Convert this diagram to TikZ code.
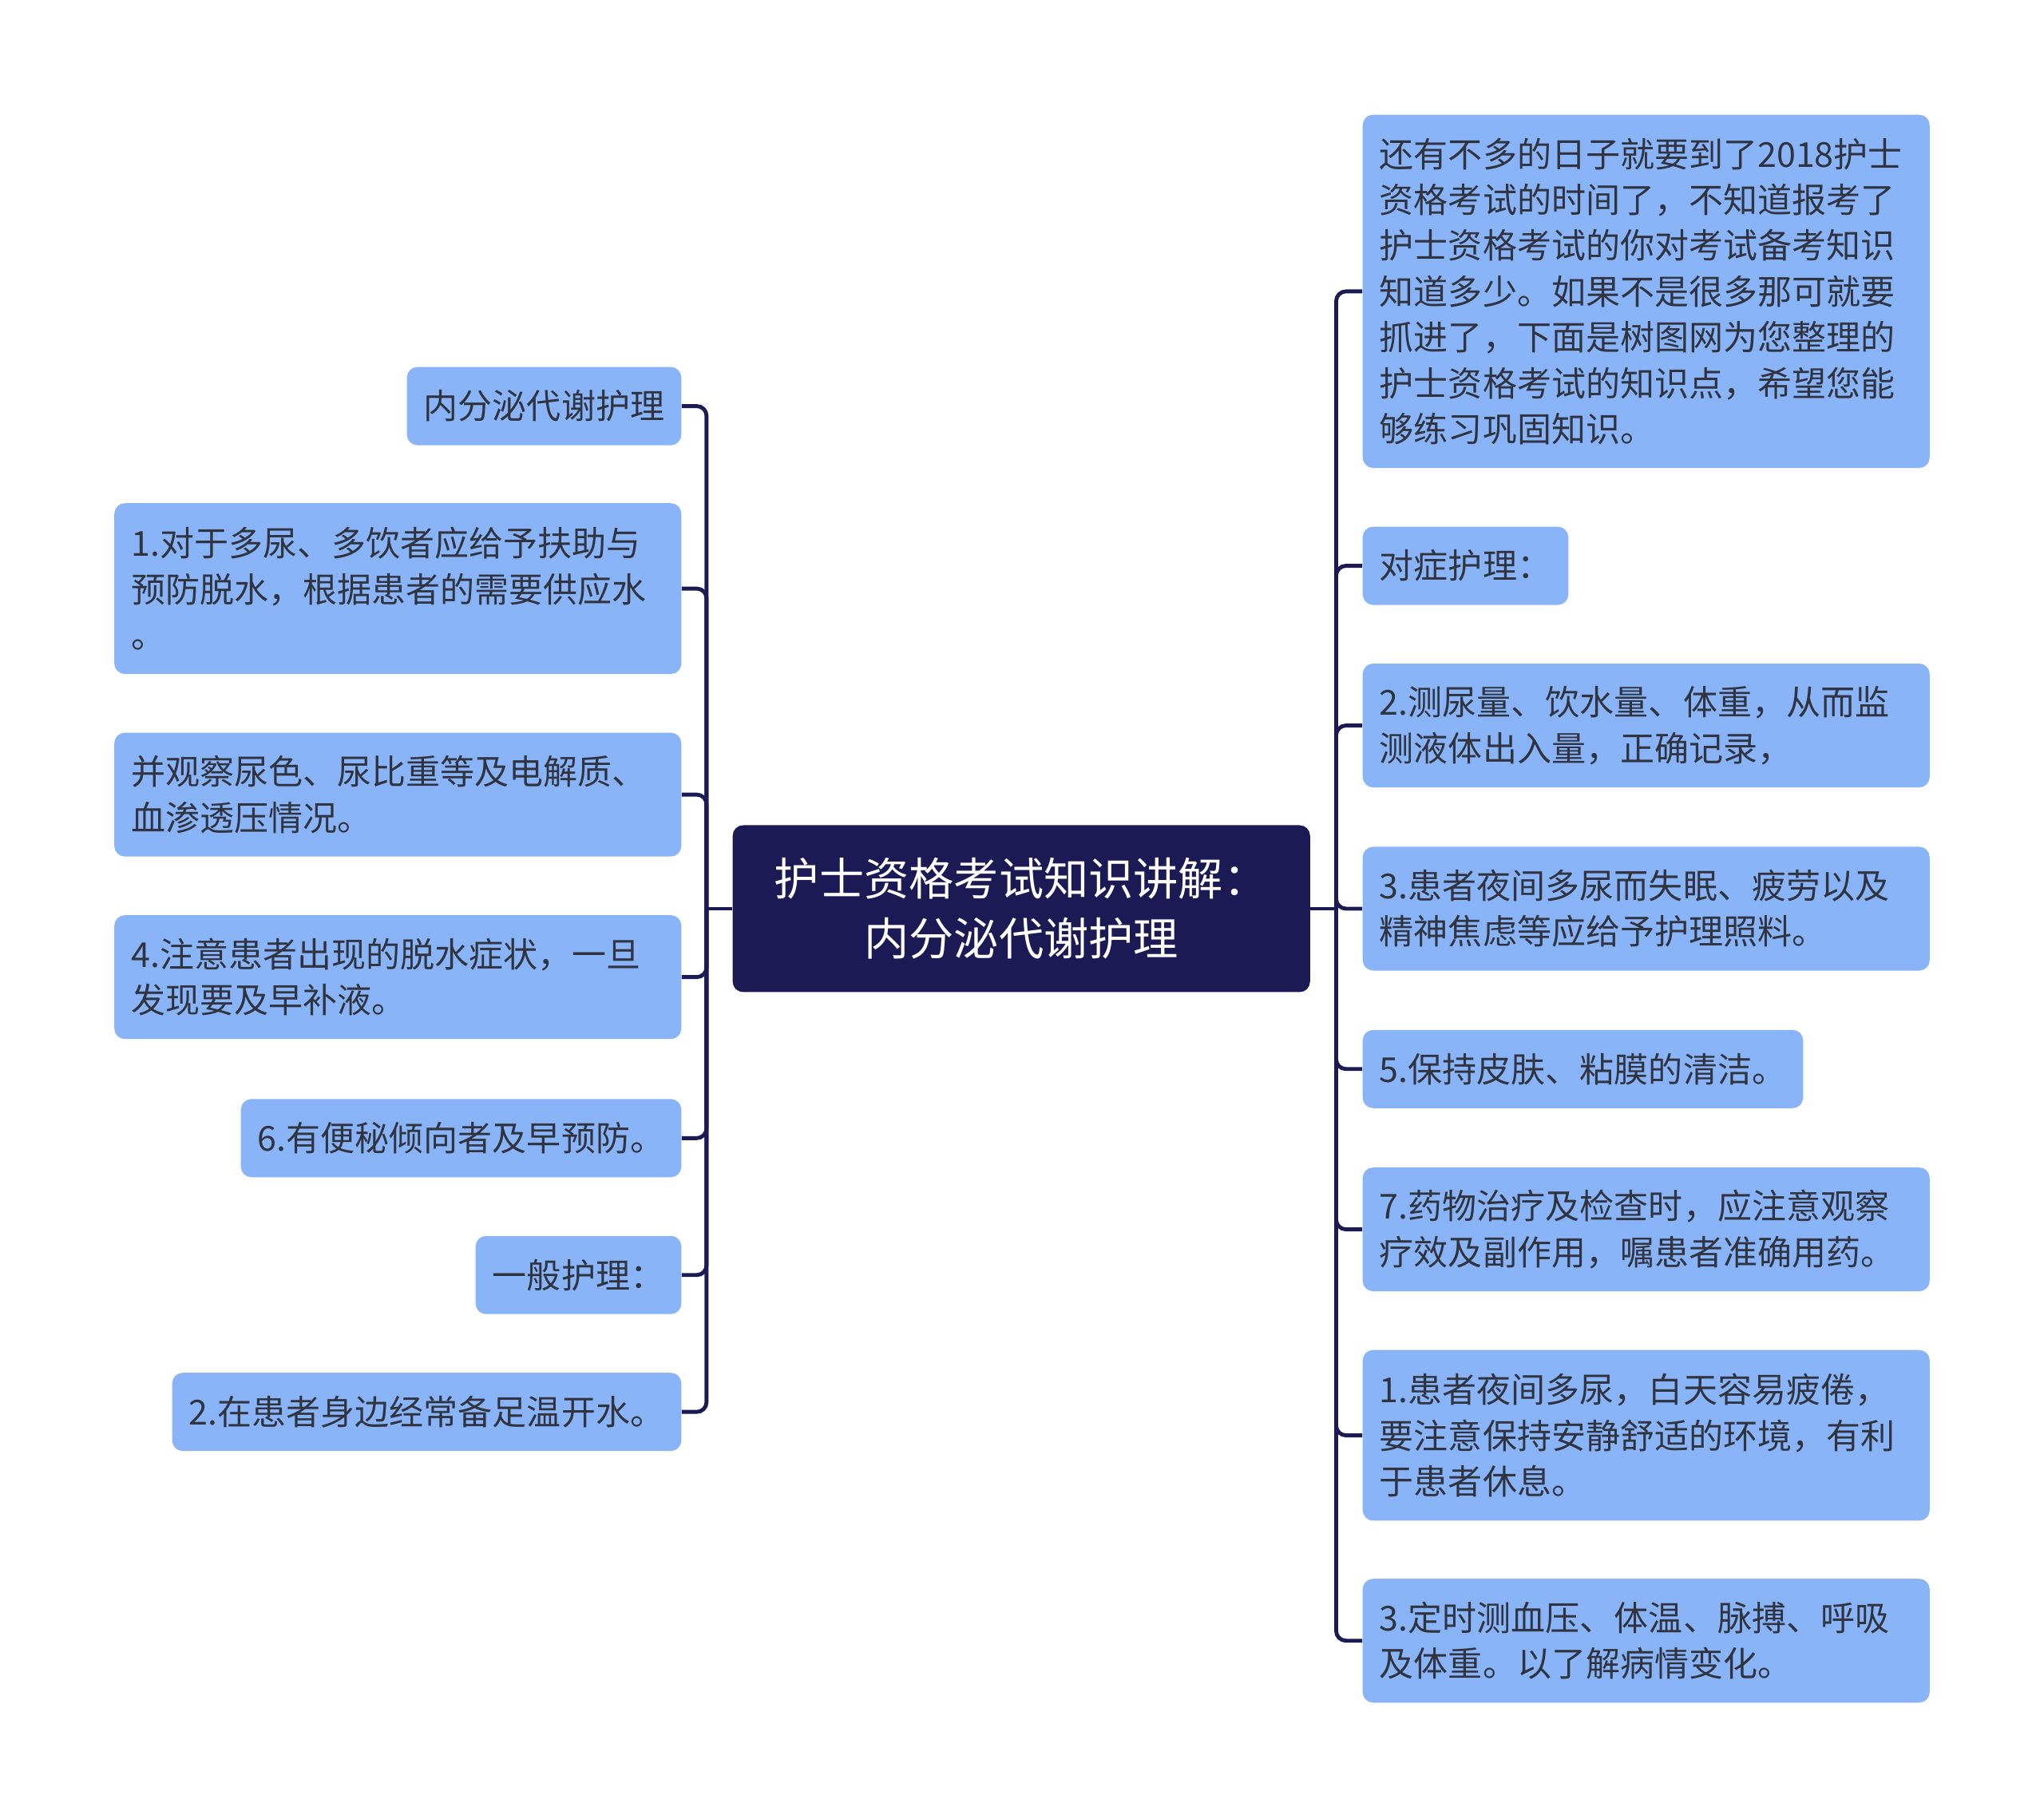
\documentclass[tikz,border=0pt]{standalone}
\usepackage{fontspec}
\setmainfont{Noto Sans CJK SC}
\usetikzlibrary{positioning}
\definecolor{boxblue}{HTML}{8AB4F8}
\definecolor{navy}{HTML}{1B1A55}
\definecolor{ink}{HTML}{2F3440}

\begin{document}
\begin{tikzpicture}[x=0.02cm,y=-0.02cm,
  leaf/.style={rounded corners=0.16cm,fill=boxblue,text=ink,font=\fontsize{15pt}{20pt}\selectfont,inner xsep=0.26cm,inner ysep=0pt,align=left},
  wide/.style={leaf,text width=8.18cm},
  link/.style={draw=navy,line width=1.7pt,rounded corners=0.15cm}]
\useasboundingbox (0,0) rectangle (1568,1395);
% root
\node[fill=navy,text=white,rounded corners=0.16cm,minimum width=8.86cm,minimum height=2.56cm,align=center,font=\fontsize{19.6pt}{26pt}\selectfont] (root) at (783.5,697) {护士资格考试知识讲解：\\内分泌代谢护理};
% left branch
\node[leaf,anchor=east,minimum height=1.2cm] (L1) at (523,311.5) {内分泌代谢护理};
\node[wide,anchor=east,minimum height=2.62cm] (L2) at (523,451.5) {1.对于多尿、多饮者应给予扶助与\\预防脱水，根据患者的需要供应水\\。};
\node[wide,anchor=east,minimum height=1.9cm] (L3) at (523,609.5) {并观察尿色、尿比重等及电解质、\\血渗透压情况。};
\node[wide,anchor=east,minimum height=1.9cm] (L4) at (523,749.5) {4.注意患者出现的脱水症状，一旦\\发现要及早补液。};
\node[leaf,anchor=east,minimum height=1.2cm] (L5) at (523,873) {6.有便秘倾向者及早预防。};
\node[leaf,anchor=east,minimum height=1.2cm] (L6) at (523,978) {一般护理：};
\node[leaf,anchor=east,minimum height=1.2cm] (L7) at (523,1083) {2.在患者身边经常备足温开水。};
% right branch
\node[wide,anchor=west,minimum height=5.42cm] (R1) at (1045,223.5) {还有不多的日子就要到了2018护士\\资格考试的时间了，不知道报考了\\护士资格考试的你对考试备考知识\\知道多少。如果不是很多那可就要\\抓进了，下面是树图网为您整理的\\护士资格考试的知识点，希望您能\\够练习巩固知识。};
\node[leaf,anchor=west,minimum height=1.2cm] (R2) at (1045,434) {对症护理：};
\node[wide,anchor=west,minimum height=1.9cm] (R3) at (1045,556.5) {2.测尿量、饮水量、体重，从而监\\测液体出入量，正确记录，};
\node[wide,anchor=west,minimum height=1.9cm] (R4) at (1045,697) {3.患者夜间多尿而失眠、疲劳以及\\精神焦虑等应给予护理照料。};
\node[leaf,anchor=west,minimum height=1.2cm] (R5) at (1045,820) {5.保持皮肤、粘膜的清洁。};
\node[wide,anchor=west,minimum height=1.9cm] (R6) at (1045,943) {7.药物治疗及检查时，应注意观察\\疗效及副作用，嘱患者准确用药。};
\node[wide,anchor=west,minimum height=2.62cm] (R7) at (1045,1101) {1.患者夜间多尿，白天容易疲倦，\\要注意保持安静舒适的环境，有利\\于患者休息。};
\node[wide,anchor=west,minimum height=1.9cm] (R8) at (1045,1258.5) {3.定时测血压、体温、脉搏、呼吸\\及体重。以了解病情变化。};
% connectors
\coordinate (lj) at (542,697);
\coordinate (rj) at (1025,697);
\draw[link] (root.west) -- (lj);
\draw[link] (root.east) -- (rj);
\foreach \i in {1,...,7} \draw[link] (lj) |- (L\i.east);
\foreach \i in {1,...,8} \draw[link] (rj) |- (R\i.west);
\end{tikzpicture}
\end{document}
